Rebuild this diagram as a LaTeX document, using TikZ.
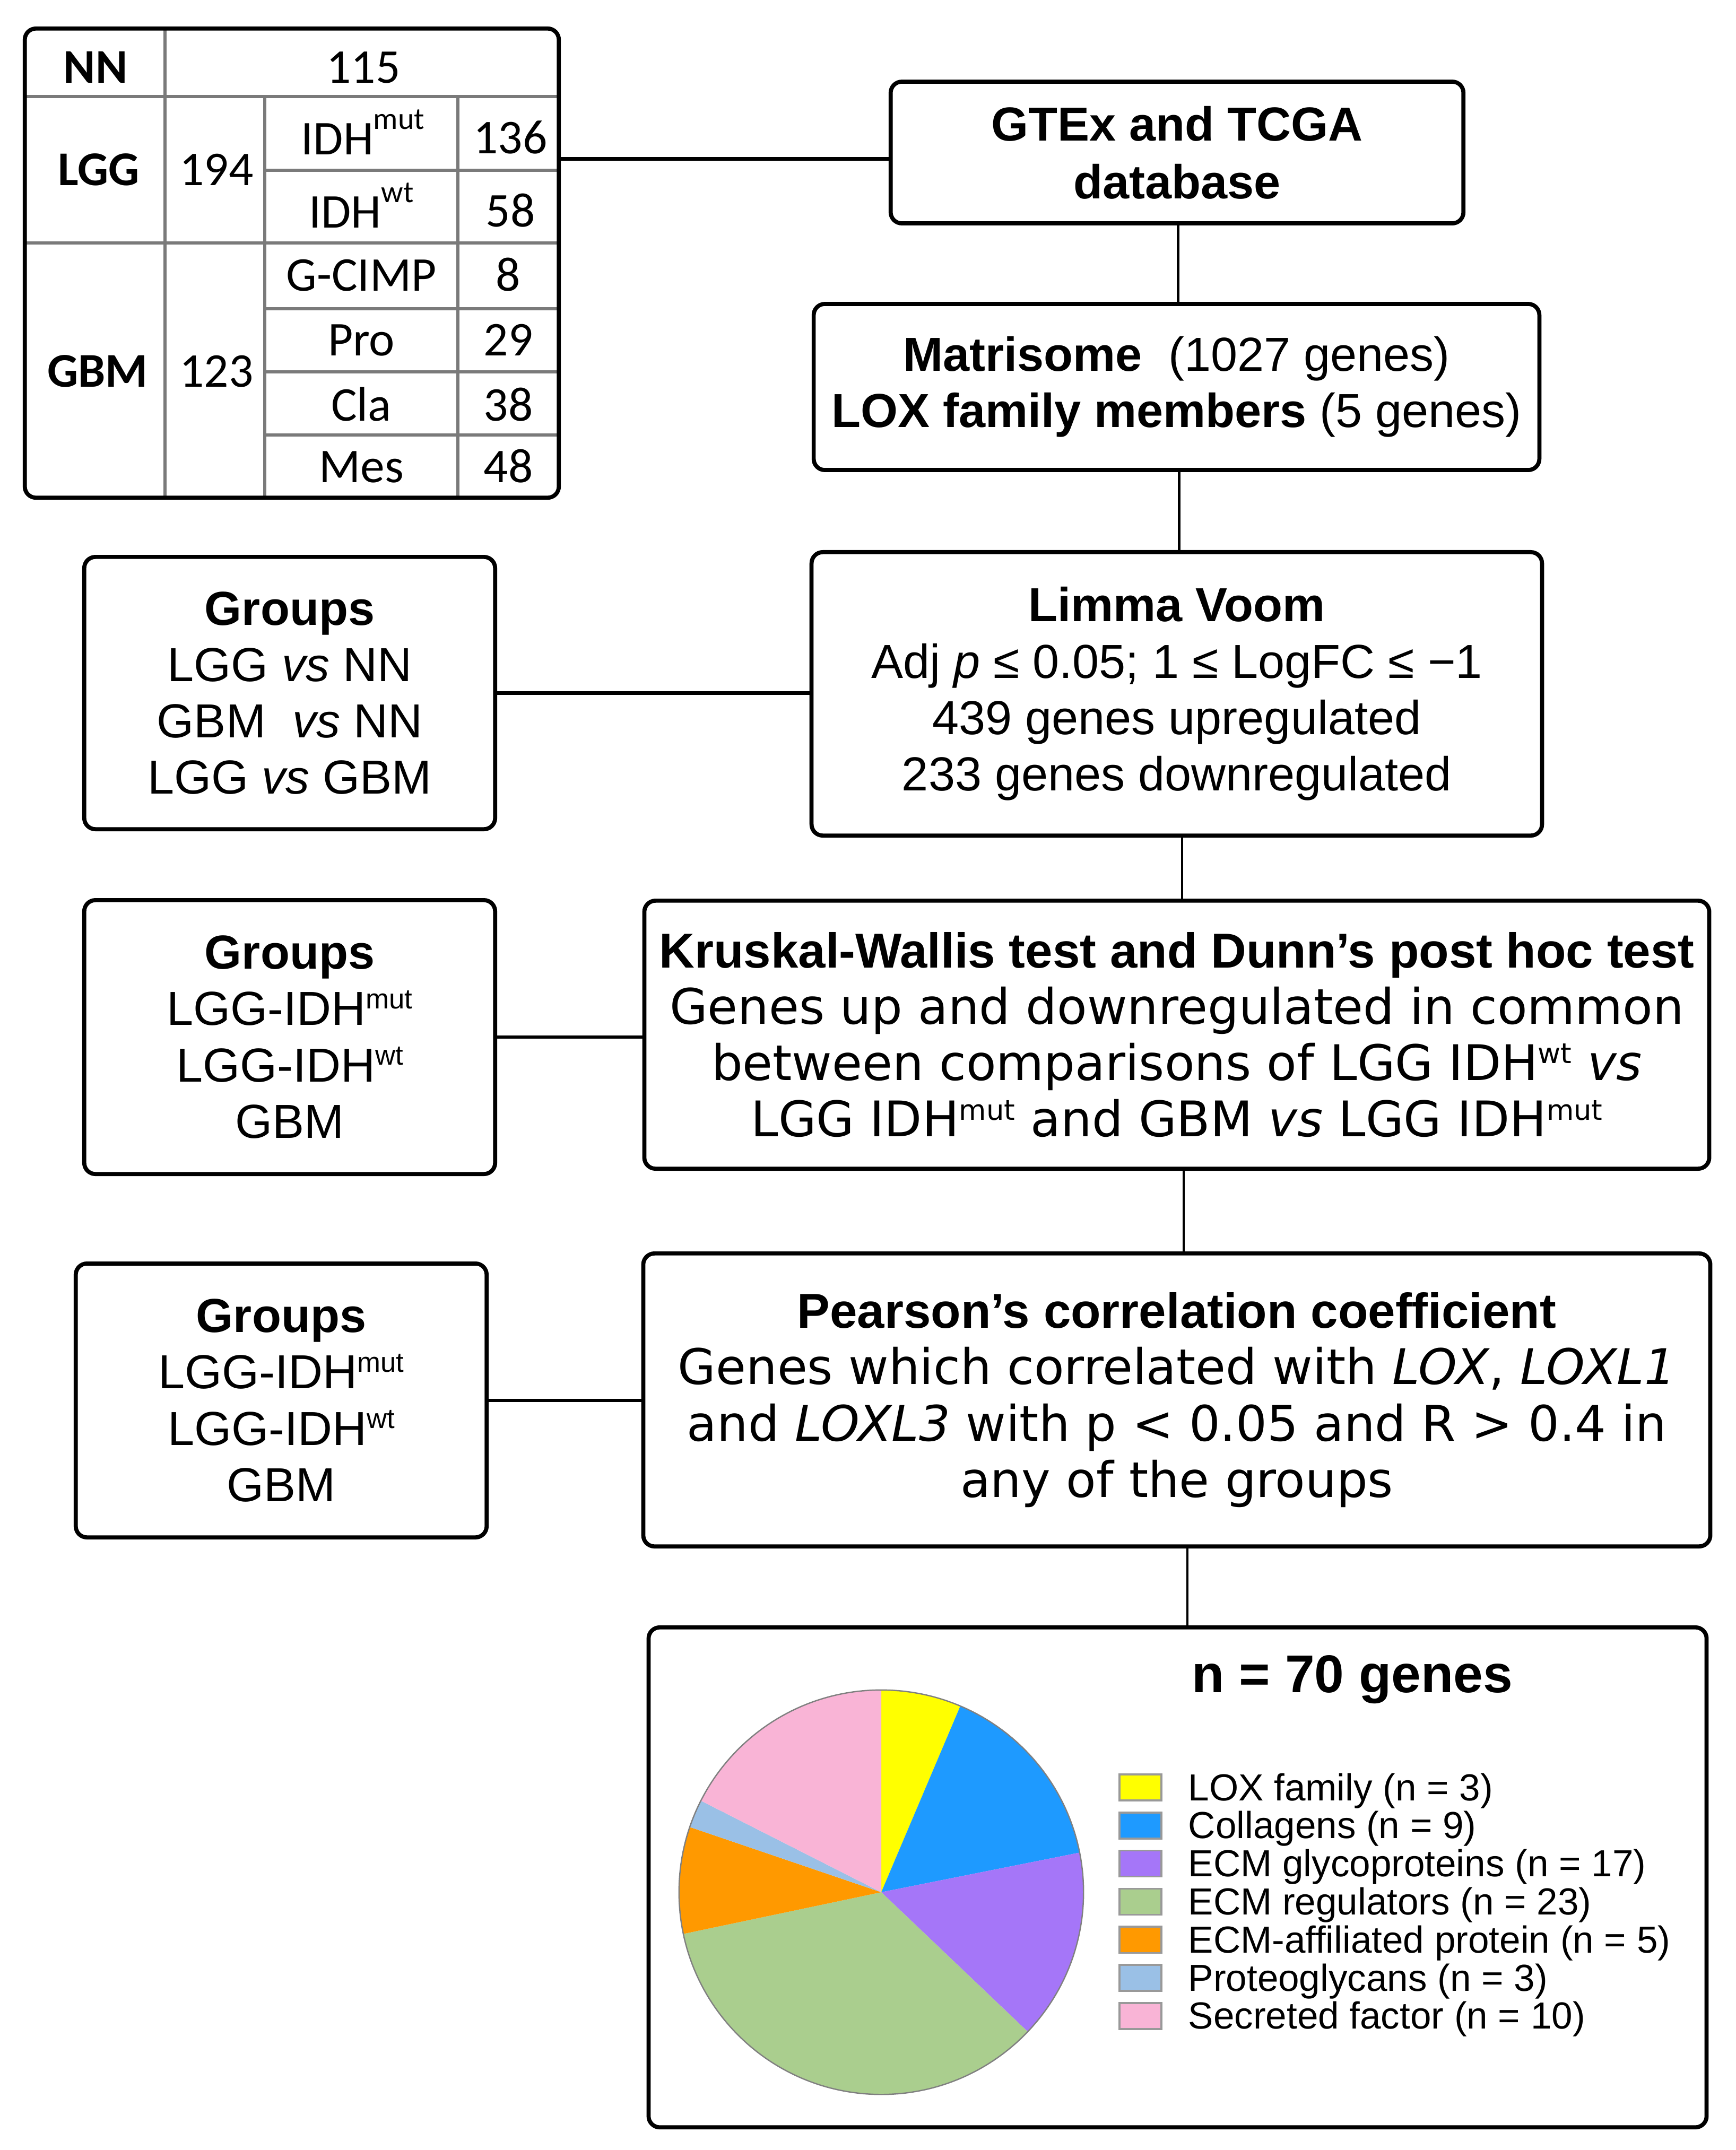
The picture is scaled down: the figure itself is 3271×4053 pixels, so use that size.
\documentclass[tikz,border=0pt]{standalone}
\usepackage{fontspec}
\setmainfont{Liberation Sans}
\newfontfamily\dvs{DejaVu Sans}
\newfontfamily\calf{Carlito}
\newcommand\mainsz{\fontsize{25.6pt}{30.2pt}\selectfont}
\newcommand\widesz{\fontsize{26.3pt}{30.2pt}\selectfont}
\newcommand\supr[1]{\raisebox{9pt}{\fontsize{15pt}{15pt}\selectfont #1}}
\newcommand\supt[1]{\raisebox{13.5pt}{\fontsize{16.5pt}{16.5pt}\selectfont #1}}
\definecolor{cyel}{HTML}{FFFF00}
\definecolor{cblu}{HTML}{1E9AFF}
\definecolor{cpur}{HTML}{A576F8}
\definecolor{cgrn}{HTML}{AACE8E}
\definecolor{cora}{HTML}{FF9900}
\definecolor{clbl}{HTML}{9AC0E6}
\definecolor{cpnk}{HTML}{F9B4D6}
\definecolor{tgray}{HTML}{7A7A7A}
\begin{document}
\begin{tikzpicture}[x=0.01cm,y=-0.01cm,
  flowbox/.style={draw, line width=2.2pt, rounded corners=6pt, inner sep=0pt, align=center, font=\mainsz},
  hline/.style={line width=1.8pt},
  vline/.style={line width=1.4pt},
  tline/.style={line width=1.5pt, tgray},
  tcell/.style={anchor=base, inner sep=0pt, font=\calf\fontsize{26pt}{30pt}\selectfont},
  legsq/.style={draw=gray!80, line width=1pt, minimum width=0.79cm, minimum height=0.49cm, inner sep=0pt},
  legtext/.style={anchor=base west, inner sep=0pt, font=\fontsize{20.2pt}{24pt}\selectfont}
]
\useasboundingbox (0,0) rectangle (3271,4053);

% ---- table ----
\draw[tline] (311,54) -- (311,938);
\draw[tline] (499,182) -- (499,938);
\draw[tline] (863,182) -- (863,938);
\draw[tline] (47,182) -- (1053,182);
\draw[tline] (499,321) -- (1053,321);
\draw[tline] (47,458) -- (1053,458);
\draw[tline] (499,582) -- (1053,582);
\draw[tline] (499,701) -- (1053,701);
\draw[tline] (499,820) -- (1053,820);
\node[draw, line width=2.2pt, rounded corners=6pt, inner sep=0pt, minimum width=10.06cm, minimum height=8.84cm] (tbl) at (550,496) {};

\node[tcell] (tNN) at (180,156) {\bfseries NN};
\node[tcell] (t115) at (685,156) {115};
\node[tcell] (tLGG) at (186,349) {\bfseries LGG};
\node[tcell] (t194) at (408,349) {194};
\node[tcell] (tmut) at (684,291) {IDH\supt{mut}};
\node[tcell] (t136) at (962,289) {136};
\node[tcell] (twt) at (681,429) {IDH\supt{wt}};
\node[tcell] (t58) at (962,427) {58};
\node[tcell] (tGBM) at (184,729) {\bfseries GBM};
\node[tcell] (t123) at (408,729) {123};
\node[tcell] (tgc) at (681,548) {G-CIMP};
\node[tcell] (t8) at (958,548) {8};
\node[tcell] (tpro) at (681,670) {Pro};
\node[tcell] (t29) at (958,670) {29};
\node[tcell] (tcla) at (681,793) {Cla};
\node[tcell] (t38) at (958,793) {38};
\node[tcell] (tmes) at (681,909) {Mes};
\node[tcell] (t48) at (958,909) {48};

% ---- flow boxes ----
\node[flowbox, minimum width=10.79cm, minimum height=2.67cm, font=\fontsize{25.6pt}{31pt}\selectfont\bfseries] (gtex) at (2218.5,287.5) {GTEx and TCGA\\database};
\node[flowbox, minimum width=13.67cm, minimum height=3.13cm] (matri) at (2217.5,729.5) {\textbf{Matrisome}\ \ (1027 genes)\\\textbf{LOX family members} (5 genes)};
\node[flowbox, minimum width=13.76cm, minimum height=5.34cm] (limma) at (2218,1308) {\textbf{Limma Voom}\\Adj \textit{p} ≤ 0.05; 1 ≤ LogFC ≤ −1\\439 genes upregulated\\233 genes downregulated};
\node[flowbox, minimum width=7.74cm, minimum height=5.13cm] (g1) at (546,1306.5) {\textbf{Groups}\\LGG \textit{vs} NN\\GBM \ \textit{vs} NN\\LGG \textit{vs} GBM};
\node[flowbox, minimum width=20.06cm, minimum height=5.05cm, font=\widesz] (krus) at (2218,1950.5) {\textbf{Kruskal-Wallis test and Dunn's post hoc test}\\{\dvs Genes up and downregulated in common}\\{\dvs between comparisons of LGG IDH\supr{wt} \textit{vs}}\\{\dvs LGG IDH\supr{mut} and GBM \textit{vs} LGG IDH\supr{mut}}};
\node[flowbox, minimum width=7.74cm, minimum height=5.16cm] (g2) at (546,1955) {\textbf{Groups}\\LGG-IDH\supr{mut}\\LGG-IDH\supr{wt}\\GBM};
\node[flowbox, minimum width=20.10cm, minimum height=5.52cm, font=\widesz] (pear) at (2218,2639) {\textbf{Pearson's correlation coefficient}\\{\dvs Genes which correlated with \textit{LOX}, \textit{LOXL1}}\\{\dvs and \textit{LOXL3} with p < 0.05 and R > 0.4 in}\\{\dvs any of the groups}};
\node[flowbox, minimum width=7.74cm, minimum height=5.16cm] (g3) at (530,2640) {\textbf{Groups}\\LGG-IDH\supr{mut}\\LGG-IDH\supr{wt}\\GBM};
\node[flowbox, minimum width=19.93cm, minimum height=9.42cm] (piebox) at (2219.5,3539) {};

% ---- connectors ----
\draw[hline] ([yshift=-0.12cm]gtex.west) -- ([yshift=-0.12cm]gtex.west -| tbl.east);
\draw[vline] ([xshift=0.02cm]gtex.south) -- ([xshift=0.02cm]gtex.south |- matri.north);
\draw[vline] ([xshift=0.05cm]matri.south) -- ([xshift=0.05cm]matri.south |- limma.north);
\draw[vline] ([xshift=0.1cm]limma.south) -- ([xshift=0.1cm]limma.south |- krus.north);
\draw[vline] ([xshift=0.13cm]krus.south) -- ([xshift=0.13cm]krus.south |- pear.north);
\draw[vline] ([xshift=0.2cm]pear.south) -- ([xshift=0.2cm]pear.south |- piebox.north);
\draw[hline] (g1.east) -- (g1.east -| limma.west);
\draw[hline] (g2.east) -- (g2.east -| krus.west);
\draw[hline] (g3.east) -- (g3.east -| pear.west);

% ---- pie ----
\coordinate (pc) at (1661,3567);
\def\pr{3.81cm}
\fill[cyel] (pc) -- ++(90:\pr) arc[start angle=90, end angle=67, radius=\pr] -- cycle;
\fill[cblu] (pc) -- ++(67:\pr) arc[start angle=67, end angle=11.3, radius=\pr] -- cycle;
\fill[cpur] (pc) -- ++(11.3:\pr) arc[start angle=11.3, end angle=-43.6, radius=\pr] -- cycle;
\fill[cgrn] (pc) -- ++(-43.6:\pr) arc[start angle=-43.6, end angle=-168.1, radius=\pr] -- cycle;
\fill[cora] (pc) -- ++(-168.1:\pr) arc[start angle=-168.1, end angle=-198.8, radius=\pr] -- cycle;
\fill[clbl] (pc) -- ++(-198.8:\pr) arc[start angle=-198.8, end angle=-206.9, radius=\pr] -- cycle;
\fill[cpnk] (pc) -- ++(-206.9:\pr) arc[start angle=-206.9, end angle=-270, radius=\pr] -- cycle;
\draw[gray, line width=0.7pt] (pc) circle[radius=\pr];

\node[anchor=base, inner sep=0pt, font=\fontsize{28.5pt}{32pt}\selectfont\bfseries] (ptitle) at (2549,3190) {n = 70 genes};

\foreach \c/\t [count=\i from 0] in {cyel/LOX family (n = 3), cblu/Collagens (n = 9), cpur/ECM glycoproteins (n = 17), cgrn/ECM regulators (n = 23), cora/ECM-affiliated protein (n = 5), clbl/Proteoglycans (n = 3), cpnk/Secreted factor (n = 10)}{
  \node[legsq, fill=\c] (leg\i) at (2149.5,{3369.5+71.8*\i}) {};
  \node[legtext] (legt\i) at (2239,{3394+71.8*\i}) {\t};
}
\end{tikzpicture}
\end{document}
